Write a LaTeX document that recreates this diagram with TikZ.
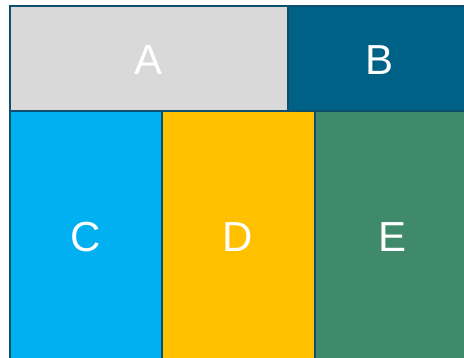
\documentclass[tikz,border=0pt]{standalone}
\usepackage{fontspec}
\setmainfont{Liberation Sans}
\definecolor{edge}{HTML}{0E4F6E}
\definecolor{fillA}{HTML}{D9D9D9}
\definecolor{fillB}{HTML}{006187}
\definecolor{fillC}{HTML}{00B0F0}
\definecolor{fillD}{HTML}{FFC000}
\definecolor{fillE}{HTML}{3E8A6B}
\tikzset{
  cell/.style={draw=edge, line width=2.5pt},
  lab/.style={text=white, font=\fontsize{42}{42}\selectfont, inner sep=0pt}
}
\begin{document}
\begin{tikzpicture}[x=1pt,y=-1pt]
\useasboundingbox (0,0) rectangle (464,358);
\clip (0,0) rectangle (464,358);
\fill[white] (0,0) rectangle (464,358);
\draw[cell, fill=fillA] (10,6) rectangle (288,111);
\draw[cell, fill=fillB] (288,6) rectangle (472,111);
\draw[cell, fill=fillC] (10,111) rectangle (162,359);
\draw[cell, fill=fillD] (162,111) rectangle (315,359);
\draw[cell, fill=fillE] (315,111) rectangle (472,359);
\node[lab] (a) at (149,60) {A};
\node[lab] (b) at (380,60) {B};
\node[lab] (c) at (86,237) {C};
\node[lab] (d) at (238,237) {D};
\node[lab] (e) at (393,237) {E};
\end{tikzpicture}
\end{document}
